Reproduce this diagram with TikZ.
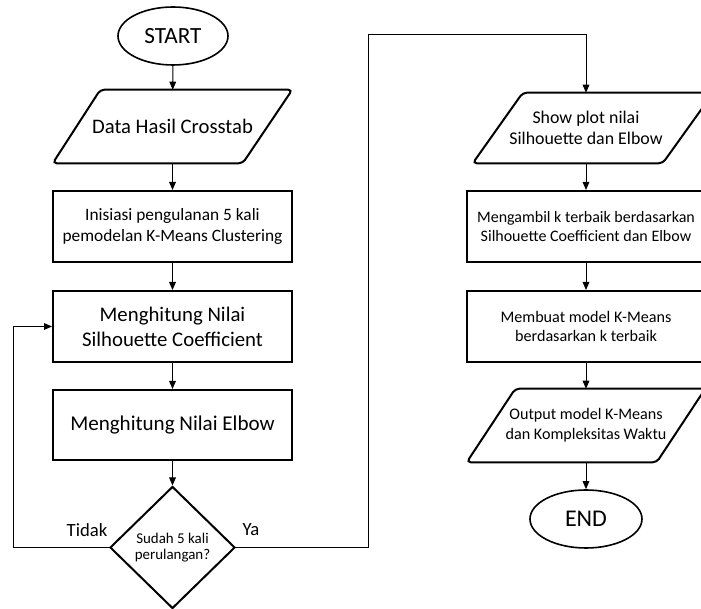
\documentclass[tikz,border=0pt]{standalone}
\usepackage{fontspec}
\setmainfont{Carlito}
\usetikzlibrary{shapes.geometric,arrows.meta,calc}
\begin{document}
\begin{tikzpicture}[x=0.75pt,y=-0.75pt,
  conn/.style={line width=0.75pt,-{Triangle[length=6pt,width=5pt]}},
  procbox/.style={draw,line width=1.5pt,rectangle,align=center,inner sep=0pt},
  iobox/.style={rectangle,align=center,inner sep=0pt},
  iodraw/.style={draw,line width=1.5pt,rounded corners=3pt},
  termbox/.style={draw,line width=1.2pt,ellipse,inner sep=0pt},
  decbox/.style={draw,line width=1.5pt,diamond,inner sep=0pt,align=center,font=\fontsize{11.2}{12.5}\selectfont},
  lbl/.style={inner sep=0pt,font=\fontsize{14}{16}\selectfont}
]
\useasboundingbox (0,0) rectangle (701,609);
\clip (0,0) rectangle (701,609);

% ---- left column ----
\node[termbox,minimum width=82.5pt,minimum height=43.5pt,font=\fontsize{17.4}{19}\selectfont] (start) at (173,36) {START};

\node[iobox,minimum width=179.25pt,minimum height=54.75pt,font=\fontsize{15.5}{18}\selectfont] (data) at (172.5,126.5) {Data Hasil Crosstab};
\draw[iodraw] (data.south west) -- ($(data.south west)+(190,0)$) -- (data.north east) -- ($(data.north east)+(-192,0)$) -- cycle;

\node[procbox,minimum width=179.25pt,minimum height=53.25pt,font=\fontsize{13}{15.5}\selectfont] (init) at (172.5,226.5) {Inisiasi pengulanan 5 kali\\pemodelan K-Means Clustering};

\node[procbox,minimum width=179.25pt,minimum height=53.25pt,font=\fontsize{15.6}{18.8}\selectfont] (sil) at (172.5,326.5) {Menghitung Nilai\\Silhouette Coefficient};

\node[procbox,minimum width=179.25pt,minimum height=52.5pt,font=\fontsize{15.8}{19}\selectfont] (elb) at (172.5,425) {Menghitung Nilai Elbow};

\node[decbox,minimum width=93.75pt,minimum height=91.5pt] (dec) at (172.5,547.5) {Sudah 5 kali\\perulangan?};

\node[lbl] (tidak) at (87,530) {Tidak};
\node[lbl] (ya) at (251,530) {Ya};

% ---- right column ----
\node[iobox,minimum width=169.5pt,minimum height=52.5pt,font=\fontsize{13.4}{16.3}\selectfont] (show) at (586,128) {Show plot nilai\\Silhouette dan Elbow};
\draw[iodraw] (show.south west) -- ($(show.south west)+(190,0)$) -- ($(show.north east)+(14,0)$) -- ($(show.north west)+(50,0)$) -- cycle;

\node[procbox,minimum width=179.25pt,minimum height=53.25pt,font=\fontsize{12}{13.75}\selectfont] (take) at (586,226.5) {Mengambil k terbaik berdasarkan\\Silhouette Coefficient dan Elbow};

\node[procbox,minimum width=179.25pt,minimum height=53.25pt,font=\fontsize{12.1}{13.75}\selectfont] (model) at (586,326.5) {Membuat model K-Means\\berdasarkan k terbaik};

\node[iobox,minimum width=178.5pt,minimum height=54.75pt,font=\fontsize{12.1}{15}\selectfont] (out) at (586,425.5) {Output model K-Means\\dan Kompleksitas Waktu};
\draw[iodraw] (out.south west) -- ($(out.south west)+(190,0)$) -- (out.north east) -- ($(out.north east)+(-190,0)$) -- cycle;

\node[termbox,minimum width=84pt,minimum height=43.5pt,font=\fontsize{18}{20}\selectfont] (end) at (586,519) {END};

% ---- connectors ----
\draw[conn] (start) -- (data);
\draw[conn] (data) -- (init);
\draw[conn] (init) -- (sil);
\draw[conn] (sil) -- (elb);
\draw[conn] (elb) -- (dec);
\coordinate (backx) at (13,0);
\draw[conn] (dec.west) -- (backx |- dec.west) |- (sil.west);
\coordinate (upcorner) at (368,35);
\draw[conn] (dec.east) -| (upcorner) -| (show.north);
\draw[conn] (show) -- (take);
\draw[conn] (take) -- (model);
\draw[conn] (model) -- (out);
\draw[conn] (out) -- (end);
\end{tikzpicture}
\end{document}
